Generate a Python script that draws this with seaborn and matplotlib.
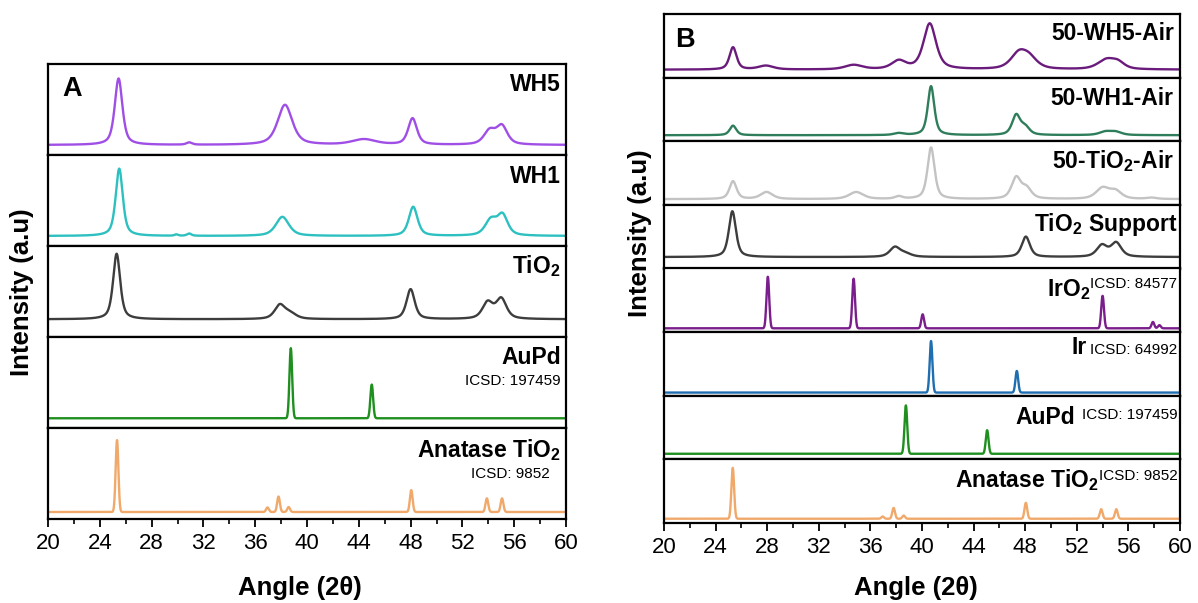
import numpy as np
import pandas as pd
import matplotlib
matplotlib.use("Agg")
import matplotlib.pyplot as plt
import seaborn as sns
from matplotlib.ticker import MultipleLocator

sns.set_theme(style="white")
plt.rcParams['font.family'] = ['Liberation Sans', 'DejaVu Sans']
plt.rcParams['mathtext.fontset'] = 'custom'
plt.rcParams['mathtext.rm'] = 'Liberation Sans'
plt.rcParams['mathtext.bf'] = 'Liberation Sans:bold'
plt.rcParams['mathtext.it'] = 'Liberation Sans:italic'
plt.rcParams['text.color'] = 'black'
plt.rcParams['xtick.color'] = 'black'
plt.rcParams['xtick.labelcolor'] = 'black'

# ---------------- data: peaks (position 2theta, height above baseline, FWHM) ----------------
# Panel A
wh5_base = 0.11
wh5_peaks = [(25.45, 0.73, 0.7), (30.9, 0.025, 0.5), (38.3, 0.44, 1.35), (44.4, 0.06, 2.2),
             (48.15, 0.29, 0.8), (54.1, 0.15, 1.05), (55.05, 0.2, 1.0)]
wh1_base = 0.11
wh1_peaks = [(25.5, 0.74, 0.65), (29.9, 0.015, 0.3), (30.9, 0.025, 0.4), (38.1, 0.21, 1.2),
             (48.2, 0.32, 0.8), (54.2, 0.17, 1.05), (55.1, 0.22, 0.95)]
tio2_base = 0.195
tio2_peaks = [(25.3, 0.72, 0.65), (37.9, 0.15, 0.95), (38.7, 0.06, 1.1), (48.0, 0.33, 0.75),
              (53.95, 0.18, 0.95), (55.0, 0.22, 0.95)]
aupd_a_base = 0.107
aupd_a_peaks = [(38.75, 0.77, 0.25), (45.0, 0.37, 0.25)]
anat_a_base = 0.077
anat_a_peaks = [(25.33, 0.79, 0.25), (36.95, 0.05, 0.25), (37.8, 0.17, 0.25), (38.58, 0.055, 0.25),
                (48.05, 0.24, 0.25), (53.89, 0.15, 0.25), (55.06, 0.15, 0.25)]

# Panel B
wh5air_base = 0.125
wh5air_peaks = [(25.35, 0.35, 0.65), (27.9, 0.06, 1.4), (34.7, 0.07, 1.6), (38.2, 0.13, 1.3),
                (40.6, 0.72, 1.15), (47.5, 0.23, 1.5), (48.3, 0.16, 1.5), (54.3, 0.15, 1.6),
                (55.2, 0.09, 1.2)]
wh1air_base = 0.095
wh1air_peaks = [(25.35, 0.15, 0.6), (38.2, 0.03, 0.9), (40.7, 0.77, 0.6), (47.3, 0.31, 0.75),
                (48.0, 0.12, 0.8), (54.2, 0.05, 1.1), (55.0, 0.05, 1.1)]
tio2air_base = 0.09
tio2air_peaks = [(25.35, 0.28, 0.65), (27.95, 0.11, 1.1), (34.9, 0.11, 1.3), (38.2, 0.04, 0.7),
                 (40.7, 0.81, 0.65), (47.3, 0.33, 0.85), (48.1, 0.16, 0.9), (54.0, 0.17, 1.2),
                 (55.0, 0.12, 1.1), (57.8, 0.02, 0.9)]
support_base = 0.18
support_peaks = [(25.3, 0.72, 0.65), (37.9, 0.15, 0.95), (38.7, 0.05, 1.1), (48.05, 0.32, 0.75),
                 (53.95, 0.18, 0.95), (55.05, 0.22, 0.95)]
iro2_base = 0.06
iro2_peaks = [(28.05, 0.81, 0.25), (34.7, 0.78, 0.25), (40.05, 0.22, 0.25), (54.0, 0.51, 0.25),
              (57.9, 0.1, 0.25), (58.4, 0.05, 0.25)]
ir_base = 0.05
ir_peaks = [(40.7, 0.81, 0.25), (47.35, 0.34, 0.25)]
aupd_b_base = 0.088
aupd_b_peaks = [(38.75, 0.76, 0.25), (45.05, 0.37, 0.25)]
anat_b_base = 0.067
anat_b_peaks = [(25.33, 0.8, 0.25), (36.95, 0.035, 0.25), (37.8, 0.17, 0.25), (38.58, 0.05, 0.25),
                (48.05, 0.25, 0.25), (53.89, 0.15, 0.25), (55.06, 0.15, 0.25)]

x_ticks = [20, 24, 28, 32, 36, 40, 44, 48, 52, 56, 60]

# ---------------- helpers ----------------
angle = np.linspace(20, 60, 4001)


def pattern(peaks, base, shape):
    y = np.full_like(angle, base)
    for pos, h, w in peaks:
        g = np.exp(-4 * np.log(2) * ((angle - pos) / w) ** 2)
        if shape == "lor":
            lo = 1 / (1 + ((angle - pos) / (w / 2)) ** 2)
            y += h * (0.6 * lo + 0.4 * g)
        else:
            y += h * g
    return y


def draw(ax, peaks, base, shape, color):
    df = pd.DataFrame({"angle": angle, "intensity": pattern(peaks, base, shape)})
    sns.lineplot(data=df, x="angle", y="intensity", ax=ax, color=color, lw=1.7)
    ax.set_xlim(20, 60)
    ax.set_ylim(0, 1)
    ax.set_yticks([])
    ax.set_xlabel("")
    ax.set_ylabel("")
    for s in ax.spines.values():
        s.set_color("black")
        s.set_linewidth(1.6)
    ax.tick_params(axis="x", which="both", bottom=False, labelbottom=False)


def bottom_ticks(ax):
    ax.set_xticks(x_ticks)
    ax.xaxis.set_minor_locator(MultipleLocator(2))
    ax.tick_params(axis="x", which="major", bottom=True, labelbottom=True, direction="out",
                   length=6, width=1.3, labelsize=16, color="black", labelcolor="black", pad=4)
    ax.tick_params(axis="x", which="minor", bottom=True, direction="out", length=3.5,
                   width=1.2, color="black")


fig = plt.figure(figsize=(11.98, 6.03), dpi=100)
fig.patch.set_facecolor("white")

BOLD = dict(fontweight="bold", color="black")
LBL = 16.5

# ---------------- Panel A ----------------
a_left, a_w = 48 / 1198, 518 / 1198
a_bot, a_top = 1 - 519 / 603, 1 - 64 / 603
a_h = (a_top - a_bot) / 5
a_series = [(wh5_peaks, wh5_base, "lor", "#A04FE6"),
            (wh1_peaks, wh1_base, "lor", "#2DC0C0"),
            (tio2_peaks, tio2_base, "lor", "#3D3D3D"),
            (aupd_a_peaks, aupd_a_base, "gau", "#1F8F1F"),
            (anat_a_peaks, anat_a_base, "gau", "#F0A96A")]
axA = []
for i, (pk, b, sh, c) in enumerate(a_series):
    ax = fig.add_axes([a_left, a_top - (i + 1) * a_h, a_w, a_h])
    draw(ax, pk, b, sh, c)
    axA.append(ax)
bottom_ticks(axA[-1])

axA[0].text(0.028, 0.648, "A", transform=axA[0].transAxes, fontsize=19.5, ha="left", va="baseline", **BOLD)
axA[0].text(0.99, 0.703, "WH5", transform=axA[0].transAxes, fontsize=LBL, ha="right", va="baseline", **BOLD)
axA[1].text(0.99, 0.692, "WH1", transform=axA[1].transAxes, fontsize=LBL, ha="right", va="baseline", **BOLD)
axA[2].text(0.99, 0.703, r"TiO$_\mathbf{2}$", transform=axA[2].transAxes, fontsize=LBL, ha="right", va="baseline", **BOLD)
axA[3].text(0.99, 0.703, "AuPd", transform=axA[3].transAxes, fontsize=LBL, ha="right", va="baseline", **BOLD)
axA[3].text(0.99, 0.473, "ICSD: 197459", transform=axA[3].transAxes, fontsize=11, ha="right", va="baseline", color="black")
axA[4].text(0.99, 0.681, r"Anatase TiO$_\mathbf{2}$", transform=axA[4].transAxes, fontsize=LBL, ha="right", va="baseline", **BOLD)
axA[4].text(0.968, 0.45, "ICSD: 9852", transform=axA[4].transAxes, fontsize=11, ha="right", va="baseline", color="black")

fig.text(300 / 1198, 1 - 588 / 603, "Angle (2θ)", ha="center", va="center", fontsize=18.5, **BOLD)
fig.text(22 / 1198, 1 - 292 / 603, "Intensity (a.u)", ha="center", va="center", rotation=90, fontsize=18.5, **BOLD)

# ---------------- Panel B ----------------
b_left, b_w = 664 / 1198, 516 / 1198
b_bot, b_top = 1 - 523 / 603, 1 - 14 / 603
b_h = (b_top - b_bot) / 8
b_series = [(wh5air_peaks, wh5air_base, "lor", "#6A1B7B"),
            (wh1air_peaks, wh1air_base, "lor", "#2E7D5B"),
            (tio2air_peaks, tio2air_base, "lor", "#C3C3C3"),
            (support_peaks, support_base, "lor", "#3D3D3D"),
            (iro2_peaks, iro2_base, "gau", "#7A1E8C"),
            (ir_peaks, ir_base, "gau", "#1F6EB0"),
            (aupd_b_peaks, aupd_b_base, "gau", "#1F8F1F"),
            (anat_b_peaks, anat_b_base, "gau", "#F0A96A")]
axB = []
for i, (pk, b, sh, c) in enumerate(b_series):
    ax = fig.add_axes([b_left, b_top - (i + 1) * b_h, b_w, b_h])
    draw(ax, pk, b, sh, c)
    axB.append(ax)
bottom_ticks(axB[-1])

axB[0].text(0.021, 0.484, "B", transform=axB[0].transAxes, fontsize=19.5, ha="left", va="baseline", **BOLD)
axB[0].text(0.988, 0.594, "50-WH5-Air", transform=axB[0].transAxes, fontsize=LBL, ha="right", va="baseline", **BOLD)
axB[1].text(0.988, 0.571, "50-WH1-Air", transform=axB[1].transAxes, fontsize=LBL, ha="right", va="baseline", **BOLD)
axB[2].text(0.988, 0.571, r"50-TiO$_\mathbf{2}$-Air", transform=axB[2].transAxes, fontsize=LBL, ha="right", va="baseline", **BOLD)
axB[3].text(0.996, 0.594, r"TiO$_\mathbf{2}$ Support", transform=axB[3].transAxes, fontsize=LBL, ha="right", va="baseline", **BOLD)


def ref_label(ax, main, icsd, y_main, y_icsd, gap):
    t = ax.text(0.995, y_icsd, icsd, transform=ax.transAxes, fontsize=11, ha="right", va="baseline", color="black")
    ax.annotate(main, xy=(0, y_main), xycoords=(t, ax.transAxes), xytext=(-gap, 0),
                textcoords="offset points", ha="right", va="baseline", fontsize=LBL, **BOLD)


ref_label(axB[4], r"IrO$_\mathbf{2}$", "ICSD: 84577", 0.571, 0.698, 0)
ref_label(axB[5], "Ir", "ICSD: 64992", 0.65, 0.65, 2.5)
ref_label(axB[6], "AuPd", "ICSD: 197459", 0.554, 0.63, 5)
ref_label(axB[7], r"Anatase TiO$_\mathbf{2}$", "ICSD: 9852", 0.5625, 0.67, 0)

fig.text(916 / 1198, 1 - 588 / 603, "Angle (2θ)", ha="center", va="center", fontsize=18.5, **BOLD)
fig.text(640 / 1198, 1 - 233 / 603, "Intensity (a.u)", ha="center", va="center", rotation=90, fontsize=18.5, **BOLD)

fig.savefig("out.png", dpi=100, facecolor="white")
